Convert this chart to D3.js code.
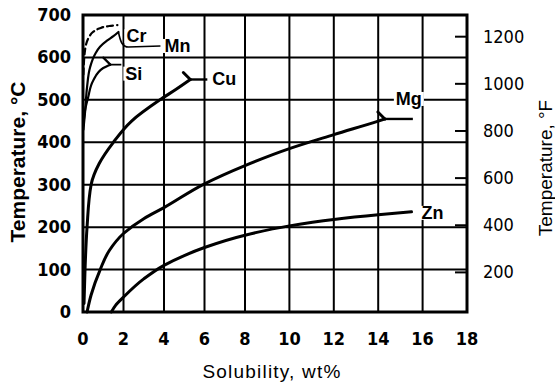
<!DOCTYPE html>
<html>
<head>
<meta charset="utf-8">
<script src="https://cdn.jsdelivr.net/npm/d3@7"></script>
<style>
  html, body { margin: 0; padding: 0; background: #fff; }
  svg { display: block; }
</style>
</head>
<body>
<svg id="chart" width="555" height="383"></svg>
<script>
// Solvus curves of alloying elements in aluminium: [solubility wt%, temperature °C]
const cuCurve = [[0.05,20],[0.1,100],[0.2,200],[0.4,300],[0.8,350],[1.5,400],[2.4,450],[3.8,500],[4.6,525],[5.3,548]];
const mgCurve = [[0.2,0],[0.4,40],[0.85,100],[1.3,145],[2,185],[3,220],[4,246],[6,302],[8,345],[10,385],[12,418],[14,450],[14.3,455]];
const znCurve = [[1.4,0],[1.6,15],[2,35],[3,78],[4,110],[5,133],[6,152],[8,181],[10,203],[12,218],[14,229],[15.5,236]];
const siCurve = [[0.02,440],[0.1,475],[0.25,505],[0.5,545],[1.0,575],[1.35,583]];
const mnCurve = [[0.02,430],[0.1,470],[0.2,530],[0.35,577],[0.6,608],[0.84,625],[1.2,640],[1.5,650],[1.75,660]];
const crCurve = [[0.02,560],[0.1,617],[0.3,648],[0.5,660],[0.8,668],[1.3,674],[1.7,676]];

// Axis ticks
const xTicks = [0,2,4,6,8,10,12,14,16,18];
const yTicksC = [0,100,200,300,400,500,600,700];
const yTicksF = [200,400,600,800,1000,1200];

const svg = d3.select("#chart");

// Printed solubility axis is slightly stretched toward the high end
const xScale = d3.scaleLinear().domain([0, 8, 18]).range([83, 245, 467]);
const yScale = d3.scaleLinear().domain([0, 700]).range([312, 15]);
// Fahrenheit scale sharing the same vertical extent (32 °F = 0 °C, 1292 °F = 700 °C)
const fScale = d3.scaleLinear().domain([32, 1292]).range([yScale(0), yScale(700)]);

const ink = "#000";
const narrow = "'Liberation Sans Narrow', 'DejaVu Sans Condensed', 'Liberation Sans', sans-serif";
const sans = "'Liberation Sans', Arial, sans-serif";

const curve = d3.line().x(d => xScale(d[0])).y(d => yScale(d[1])).curve(d3.curveMonotoneY);

// Series with label placement relative to the curve end
const series = [
  { name: "Cu", data: cuCurve, dx: 22, dy: 0, lead: 17, fork: true, w: 3 },
  { name: "Mg", data: mgCurve, dx: 11, dy: -20, lead: 28, fork: true, w: 3 },
  { name: "Zn", data: znCurve, dx: 10, dy: 1, lead: 0, fork: false, w: 3 },
  { name: "Si", data: siCurve, dx: 15, dy: 9, lead: 11, fork: true, w: 2.2 },
  { name: "Mn", data: mnCurve, dx: 46, dy: 14, lead: 0, fork: false, w: 2.2 },
  { name: "Cr", data: crCurve, dx: 9, dy: 11, lead: 0, fork: false, w: 2.2, dash: "6,4" }
];

// Curves, fork marks and leaders
const curveLayer = svg.append("g");
series.forEach(s => {
  const end = s.data[s.data.length - 1];
  const ex = xScale(end[0]), ey = yScale(end[1]);
  curveLayer.append("path")
    .attr("d", curve(s.data))
    .attr("fill", "none").attr("stroke", ink)
    .attr("stroke-linecap", "round").attr("stroke-linejoin", "round")
    .attr("stroke-width", s.w)
    .attr("stroke-dasharray", s.dash || null);
  if (s.fork) {
    curveLayer.append("line")
      .attr("x1", ex - 7).attr("y1", ey - 7).attr("x2", ex).attr("y2", ey)
      .attr("stroke", ink).attr("stroke-width", s.w).attr("stroke-linecap", "round");
  }
  if (s.lead) {
    curveLayer.append("line")
      .attr("x1", ex).attr("y1", ey).attr("x2", ex + s.lead).attr("y2", ey)
      .attr("stroke", ink).attr("stroke-width", s.w * 0.8);
  }
  if (s.name === "Mn") {
    // bent leader running down to the label
    curveLayer.append("path")
      .attr("d", `M${ex},${ey} C${ex + 2},${ey + 10} ${ex + 4},${ey + 15} ${ex + 10},${ey + 15} L${ex + 42},${ey + 14}`)
      .attr("fill", "none").attr("stroke", ink).attr("stroke-width", 1.6);
  }
});

// Plot border
svg.append("rect")
  .attr("x", xScale(0)).attr("y", yScale(700))
  .attr("width", xScale(18) - xScale(0)).attr("height", yScale(0) - yScale(700))
  .attr("fill", "none").attr("stroke", ink).attr("stroke-width", 3);

// Celsius tick labels
svg.append("g").selectAll("text").data(yTicksC).join("text")
  .attr("x", 71).attr("y", d => yScale(d) + 6)
  .attr("text-anchor", "end")
  .attr("font-family", narrow).attr("font-size", 18).attr("font-weight", "bold")
  .text(d => d);

// Solubility tick labels
svg.append("g").selectAll("text").data(xTicks).join("text")
  .attr("x", d => xScale(d)).attr("y", 345)
  .attr("text-anchor", "middle")
  .attr("font-family", narrow).attr("font-size", 18).attr("font-weight", "bold")
  .text(d => d);

// Fahrenheit tick labels
svg.append("g").selectAll("text").data(yTicksF).join("text")
  .attr("x", 483).attr("y", d => fScale(d) + 6)
  .attr("font-family", narrow).attr("font-size", 18)
  .text(d => d);

// Axis titles
svg.append("text")
  .attr("transform", "translate(25,162) rotate(-90)")
  .attr("text-anchor", "middle")
  .attr("font-family", sans).attr("font-size", 21).attr("font-weight", "bold")
  .text("Temperature, °C");

svg.append("text")
  .attr("x", 272).attr("y", 378)
  .attr("text-anchor", "middle")
  .attr("font-family", sans).attr("font-size", 19).attr("letter-spacing", 1.2)
  .text("Solubility, wt%");

svg.append("text")
  .attr("transform", "translate(552,168) rotate(-90)")
  .attr("text-anchor", "middle")
  .attr("font-family", sans).attr("font-size", 19)
  .text("Temperature, °F");

// Grid and Fahrenheit ticks, drawn over the curves
const rules = svg.append("g");
xTicks.forEach(v => {
  rules.append("line")
    .attr("x1", xScale(v)).attr("x2", xScale(v))
    .attr("y1", yScale(0)).attr("y2", yScale(700))
    .attr("stroke", ink).attr("stroke-width", 2);
});
yTicksC.forEach(v => {
  rules.append("line")
    .attr("x1", xScale(0)).attr("x2", xScale(18))
    .attr("y1", yScale(v)).attr("y2", yScale(v))
    .attr("stroke", ink).attr("stroke-width", 2);
});
yTicksF.forEach(v => {
  rules.append("line")
    .attr("x1", xScale(18) - 12).attr("x2", xScale(18))
    .attr("y1", fScale(v)).attr("y2", fScale(v))
    .attr("stroke", ink).attr("stroke-width", 2);
});

// Element names on white backing, above the grid
const labelLayer = svg.append("g");
series.forEach(s => {
  const end = s.data[s.data.length - 1];
  const ex = xScale(end[0]), ey = yScale(end[1]);
  const g = labelLayer.append("g");
  const t = g.append("text")
    .attr("x", ex + s.dx).attr("y", ey + s.dy + 6)
    .attr("font-family", sans).attr("font-size", 18).attr("font-weight", "bold")
    .attr("fill", ink)
    .text(s.name);
  const wdt = t.node().getComputedTextLength();
  g.insert("rect", "text")
    .attr("x", ex + s.dx - 2).attr("y", ey + s.dy - 7)
    .attr("width", wdt + 4).attr("height", 14)
    .attr("fill", "#fff");
});
</script>
</body>
</html>
